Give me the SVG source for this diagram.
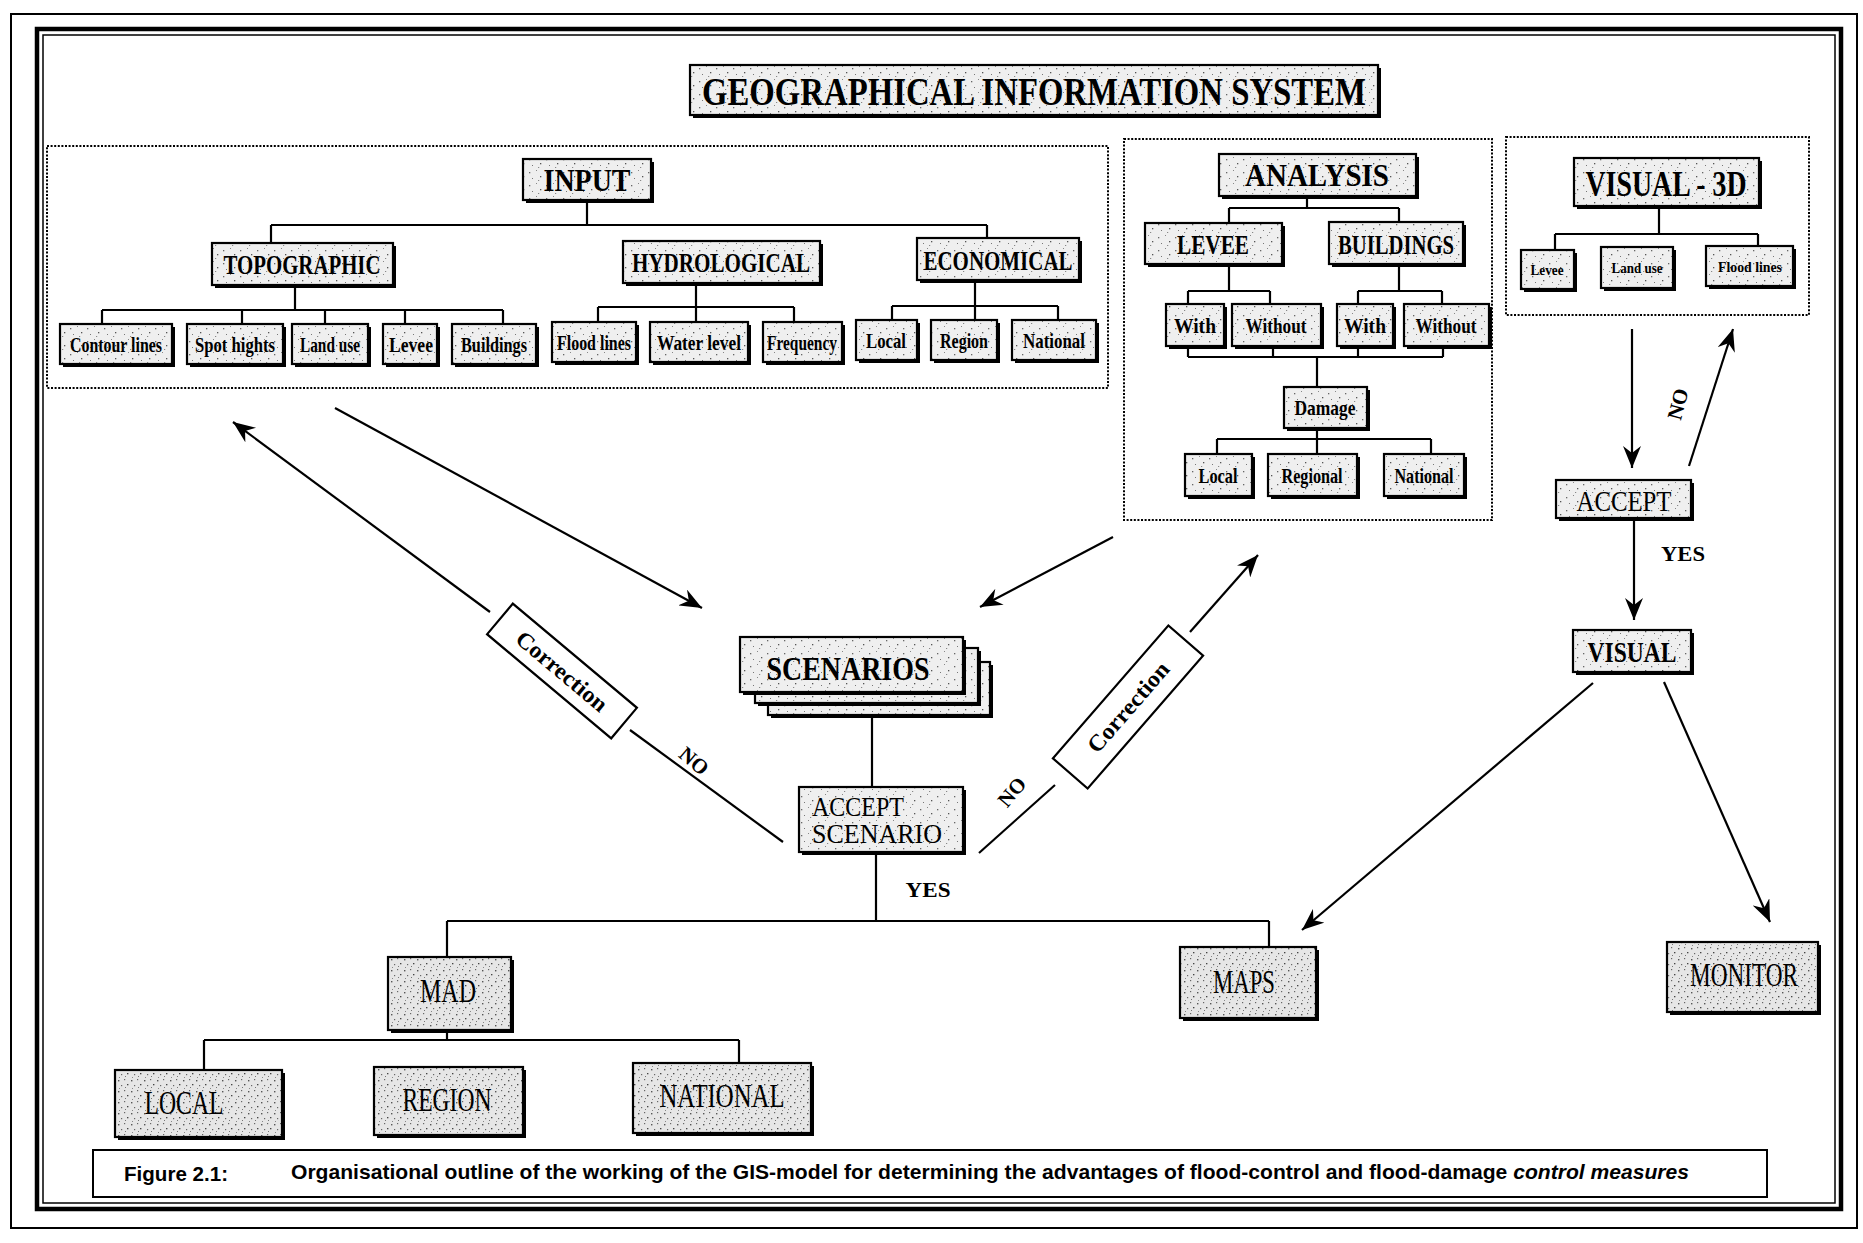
<svg xmlns="http://www.w3.org/2000/svg" width="1863" height="1243" viewBox="0 0 1863 1243">
<defs>
<pattern id="speck" width="17" height="13" patternUnits="userSpaceOnUse">
<rect width="17" height="13" fill="#efefef"/>
<rect x="2" y="3" width="1.3" height="1.3" fill="#666"/>
<rect x="9" y="1" width="1" height="1" fill="#888"/>
<rect x="13" y="7" width="1.3" height="1.3" fill="#555"/>
<rect x="5" y="9" width="1" height="1" fill="#777"/>
<rect x="11" y="11" width="1.2" height="1" fill="#888"/>
</pattern>
<pattern id="speck2" width="13" height="11" patternUnits="userSpaceOnUse">
<rect width="13" height="11" fill="#e6e6e6"/>
<rect x="1" y="2" width="1.4" height="1.4" fill="#555"/>
<rect x="7" y="1" width="1.2" height="1.2" fill="#666"/>
<rect x="10" y="6" width="1.4" height="1.3" fill="#444"/>
<rect x="4" y="7" width="1.2" height="1.2" fill="#666"/>
<rect x="8" y="9" width="1" height="1" fill="#777"/>
<rect x="2" y="10" width="1" height="1" fill="#888"/>
</pattern>
<marker id="ah" markerUnits="userSpaceOnUse" markerWidth="24" markerHeight="18" refX="22" refY="9" orient="auto">
<path d="M0,0 L22,9 L0,18 L7,9 z" fill="#000"/>
</marker>
<style>
.sh{fill:#000}
.bx{fill:url(#speck);stroke:#000;stroke-width:2.2}
.bx2{fill:url(#speck2);stroke:#000;stroke-width:2.2}
.t{font-family:"Liberation Serif","Times New Roman",serif;font-weight:bold;text-anchor:middle;fill:#000}
.r{font-weight:normal}
.ln{stroke:#000;stroke-width:2.2;fill:none}
.arr{stroke:#000;stroke-width:2.2;fill:none;marker-end:url(#ah)}
.dot{fill:none;stroke:#000;stroke-width:2;stroke-dasharray:2 1.6}
.cap{font-family:"Liberation Sans",Arial,sans-serif;font-weight:bold;fill:#000}
</style>
</defs>
<rect width="1863" height="1243" fill="#fff"/>
<g id="frame">
<rect x="11" y="14" width="1846" height="1214" fill="none" stroke="#000" stroke-width="2"/>
<rect x="37" y="29" width="1804" height="1180" fill="none" stroke="#000" stroke-width="4.5"/>
<rect x="43" y="35" width="1792" height="1168" fill="none" stroke="#000" stroke-width="1.5"/>
</g>
<g id="groups">
<rect class="dot" x="47" y="146" width="1061" height="242"/>
<rect class="dot" x="1124" y="139" width="368" height="381"/>
<rect class="dot" x="1506" y="137" width="303" height="178"/>
</g>
<g id="connectors">
<path class="ln" d="M587,200 V225 M271,225 H987 M271,225 V243 M987,225 V238"/>
<path class="ln" d="M295,285 V310 M102,310 H503 M102,310 V324 M242,310 V324 M325,310 V324 M405,310 V324 M503,310 V324"/>
<path class="ln" d="M696,283 V307 M598,307 H794 M598,307 V322 M696,307 V322 M794,307 V322"/>
<path class="ln" d="M975,280 V306 M892,306 H1058 M892,306 V320 M975,306 V320 M1058,306 V320"/>
<path class="ln" d="M1307,196 V208 M1229,208 H1399 M1229,208 V223 M1399,208 V222"/>
<path class="ln" d="M1229,264 V291 M1188,291 H1270 M1188,291 V304 M1270,291 V304"/>
<path class="ln" d="M1399,264 V291 M1358,291 H1442 M1358,291 V304 M1442,291 V304"/>
<path class="ln" d="M1188,346 V357 M1273,346 V357 M1358,346 V357 M1443,346 V357 M1188,357 H1443 M1317,357 V387"/>
<path class="ln" d="M1317,428 V439 M1217,439 H1431 M1217,439 V454 M1317,439 V454 M1431,439 V454"/>
<path class="ln" d="M1659,206 V234 M1555,234 H1758 M1555,234 V250 M1758,234 V246"/>
<path class="ln" d="M872,715 V787"/>
<path class="ln" d="M876,852 V921 M447,921 H1269 M447,921 V957 M1269,921 V947"/>
<path class="ln" d="M447,1030 V1040 M204,1040 H739 M204,1040 V1070 M739,1040 V1063"/>
<line class="arr" x1="335" y1="408" x2="702" y2="608"/>
<line class="arr" x1="1113" y1="537" x2="980" y2="607"/>
<line class="ln" x1="783" y1="842" x2="630" y2="730"/>
<line class="arr" x1="490" y1="612" x2="233" y2="422"/>
<line class="ln" x1="979" y1="853" x2="1055" y2="785"/>
<line class="arr" x1="1190" y1="632" x2="1258" y2="555"/>
<line class="arr" x1="1632" y1="329" x2="1632" y2="468"/>
<line class="arr" x1="1689" y1="466" x2="1733" y2="329"/>
<line class="arr" x1="1634" y1="518" x2="1634" y2="620"/>
<line class="arr" x1="1593" y1="683" x2="1302" y2="930"/>
<line class="arr" x1="1664" y1="682" x2="1770" y2="922"/>
<g transform="translate(562,671) rotate(40)">
<rect x="-81" y="-20" width="162" height="40" fill="#fff" stroke="#000" stroke-width="2.2"/>
<text class="t" x="0" y="8" font-size="23" textLength="112" lengthAdjust="spacingAndGlyphs">Correction</text>
</g>
<g transform="translate(1128,707) rotate(-49)">
<rect x="-88" y="-23" width="176" height="46" fill="#fff" stroke="#000" stroke-width="2.2"/>
<text class="t" x="0" y="8" font-size="23" textLength="112" lengthAdjust="spacingAndGlyphs">Correction</text>
</g>
<text class="t" font-size="21" transform="translate(694,761) rotate(40)" x="0" y="7">NO</text>
<text class="t" font-size="21" transform="translate(1012,792) rotate(-50)" x="0" y="7">NO</text>
<text class="t" font-size="21" transform="translate(1678,404) rotate(-75)" x="0" y="7">NO</text>
<text class="t" font-size="21" x="1683" y="561" textLength="44" lengthAdjust="spacingAndGlyphs">YES</text>
<text class="t" font-size="21" x="928" y="897" textLength="45" lengthAdjust="spacingAndGlyphs">YES</text>
</g>
<g id="title">
<rect class="sh" x="693" y="68" width="688" height="50"/>
<rect class="bx" x="690" y="65" width="688" height="50"/>
<text class="t" x="1034" y="105" font-size="39" textLength="664" lengthAdjust="spacingAndGlyphs">GEOGRAPHICAL INFORMATION SYSTEM</text>
</g>
<g id="input">
<rect class="sh" x="526" y="162" width="128" height="41"/>
<rect class="bx" x="523" y="159" width="128" height="41"/>
<text class="t" x="587" y="191" font-size="32" textLength="87" lengthAdjust="spacingAndGlyphs">INPUT</text>
</g>
<g id="topographic">
<rect class="sh" x="215" y="246" width="181" height="42"/>
<rect class="bx" x="212" y="243" width="181" height="42"/>
<text class="t" x="302" y="274" font-size="28" textLength="157" lengthAdjust="spacingAndGlyphs">TOPOGRAPHIC</text>
</g>
<g id="hydrological">
<rect class="sh" x="626" y="244" width="197" height="42"/>
<rect class="bx" x="623" y="241" width="197" height="42"/>
<text class="t" x="721" y="272" font-size="28" textLength="178" lengthAdjust="spacingAndGlyphs">HYDROLOGICAL</text>
</g>
<g id="economical">
<rect class="sh" x="920" y="241" width="162" height="42"/>
<rect class="bx" x="917" y="238" width="162" height="42"/>
<text class="t" x="998" y="270" font-size="28" textLength="149" lengthAdjust="spacingAndGlyphs">ECONOMICAL</text>
</g>
<g id="contour-lines"><rect class="sh" x="63" y="327" width="112" height="40"/><rect class="bx" x="60" y="324" width="112" height="40"/><text class="t" x="116" y="352" font-size="22" textLength="92" lengthAdjust="spacingAndGlyphs">Contour lines</text></g>
<g id="spot-hights"><rect class="sh" x="190" y="327" width="96" height="40"/><rect class="bx" x="187" y="324" width="96" height="40"/><text class="t" x="235" y="352" font-size="22" textLength="80" lengthAdjust="spacingAndGlyphs">Spot hights</text></g>
<g id="land-use"><rect class="sh" x="295" y="327" width="76" height="40"/><rect class="bx" x="292" y="324" width="76" height="40"/><text class="t" x="330" y="352" font-size="22" textLength="60" lengthAdjust="spacingAndGlyphs">Land use</text></g>
<g id="levee-in"><rect class="sh" x="386" y="327" width="54" height="40"/><rect class="bx" x="383" y="324" width="54" height="40"/><text class="t" x="411" y="352" font-size="22" textLength="44" lengthAdjust="spacingAndGlyphs">Levee</text></g>
<g id="buildings-in"><rect class="sh" x="455" y="327" width="84" height="40"/><rect class="bx" x="452" y="324" width="84" height="40"/><text class="t" x="494" y="352" font-size="22" textLength="66" lengthAdjust="spacingAndGlyphs">Buildings</text></g>
<g id="flood-lines"><rect class="sh" x="555" y="325" width="84" height="40"/><rect class="bx" x="552" y="322" width="84" height="40"/><text class="t" x="594" y="350" font-size="22" textLength="74" lengthAdjust="spacingAndGlyphs">Flood lines</text></g>
<g id="water-level"><rect class="sh" x="653" y="325" width="98" height="40"/><rect class="bx" x="650" y="322" width="98" height="40"/><text class="t" x="699" y="350" font-size="22" textLength="84" lengthAdjust="spacingAndGlyphs">Water level</text></g>
<g id="frequency"><rect class="sh" x="766" y="325" width="79" height="40"/><rect class="bx" x="763" y="322" width="79" height="40"/><text class="t" x="802" y="350" font-size="22" textLength="70" lengthAdjust="spacingAndGlyphs">Frequency</text></g>
<g id="local-in"><rect class="sh" x="859" y="323" width="61" height="40"/><rect class="bx" x="856" y="320" width="61" height="40"/><text class="t" x="886" y="348" font-size="22" textLength="40" lengthAdjust="spacingAndGlyphs">Local</text></g>
<g id="region-in"><rect class="sh" x="934" y="323" width="66" height="40"/><rect class="bx" x="931" y="320" width="66" height="40"/><text class="t" x="964" y="348" font-size="22" textLength="48" lengthAdjust="spacingAndGlyphs">Region</text></g>
<g id="national-in"><rect class="sh" x="1015" y="323" width="84" height="40"/><rect class="bx" x="1012" y="320" width="84" height="40"/><text class="t" x="1054" y="348" font-size="22" textLength="62" lengthAdjust="spacingAndGlyphs">National</text></g>
<g id="analysis">
<rect class="sh" x="1222" y="157" width="197" height="42"/>
<rect class="bx" x="1219" y="154" width="197" height="42"/>
<text class="t" x="1317" y="186" font-size="32" textLength="144" lengthAdjust="spacingAndGlyphs">ANALYSIS</text>
</g>
<g id="levee"><rect class="sh" x="1148" y="226" width="137" height="41"/><rect class="bx" x="1145" y="223" width="137" height="41"/><text class="t" x="1213" y="254" font-size="27" textLength="72" lengthAdjust="spacingAndGlyphs">LEVEE</text></g>
<g id="buildings"><rect class="sh" x="1332" y="225" width="134" height="42"/><rect class="bx" x="1329" y="222" width="134" height="42"/><text class="t" x="1396" y="254" font-size="27" textLength="116" lengthAdjust="spacingAndGlyphs">BUILDINGS</text></g>
<g id="with-levee"><rect class="sh" x="1169" y="307" width="58" height="42"/><rect class="bx" x="1166" y="304" width="58" height="42"/><text class="t" x="1195" y="333" font-size="22" textLength="42" lengthAdjust="spacingAndGlyphs">With</text></g>
<g id="without-levee"><rect class="sh" x="1235" y="307" width="89" height="42"/><rect class="bx" x="1232" y="304" width="89" height="42"/><text class="t" x="1276" y="333" font-size="22" textLength="61" lengthAdjust="spacingAndGlyphs">Without</text></g>
<g id="with-buildings"><rect class="sh" x="1340" y="307" width="56" height="42"/><rect class="bx" x="1337" y="304" width="56" height="42"/><text class="t" x="1365" y="333" font-size="22" textLength="42" lengthAdjust="spacingAndGlyphs">With</text></g>
<g id="without-buildings"><rect class="sh" x="1407" y="307" width="85" height="42"/><rect class="bx" x="1404" y="304" width="85" height="42"/><text class="t" x="1446" y="333" font-size="22" textLength="61" lengthAdjust="spacingAndGlyphs">Without</text></g>
<g id="damage"><rect class="sh" x="1287" y="390" width="83" height="41"/><rect class="bx" x="1284" y="387" width="83" height="41"/><text class="t" x="1325" y="415" font-size="21" textLength="61" lengthAdjust="spacingAndGlyphs">Damage</text></g>
<g id="local-an"><rect class="sh" x="1188" y="457" width="67" height="42"/><rect class="bx" x="1185" y="454" width="67" height="42"/><text class="t" x="1218" y="483" font-size="21" textLength="39" lengthAdjust="spacingAndGlyphs">Local</text></g>
<g id="regional-an"><rect class="sh" x="1271" y="457" width="89" height="42"/><rect class="bx" x="1268" y="454" width="89" height="42"/><text class="t" x="1312" y="483" font-size="21" textLength="61" lengthAdjust="spacingAndGlyphs">Regional</text></g>
<g id="national-an"><rect class="sh" x="1387" y="457" width="80" height="42"/><rect class="bx" x="1384" y="454" width="80" height="42"/><text class="t" x="1424" y="483" font-size="21" textLength="59" lengthAdjust="spacingAndGlyphs">National</text></g>
<g id="visual-3d">
<rect class="sh" x="1577" y="161" width="185" height="48"/>
<rect class="bx" x="1574" y="158" width="185" height="48"/>
<text class="t" x="1666" y="196" font-size="35" textLength="161" lengthAdjust="spacingAndGlyphs">VISUAL - 3D</text>
</g>
<g id="levee-3d"><rect class="sh" x="1524" y="253" width="53" height="39"/><rect class="bx" x="1521" y="250" width="53" height="39"/><text class="t" x="1547" y="275" font-size="14" textLength="33" lengthAdjust="spacingAndGlyphs">Levee</text></g>
<g id="land-use-3d"><rect class="sh" x="1604" y="250" width="72" height="41"/><rect class="bx" x="1601" y="247" width="72" height="41"/><text class="t" x="1637" y="273" font-size="14" textLength="51" lengthAdjust="spacingAndGlyphs">Land use</text></g>
<g id="flood-lines-3d"><rect class="sh" x="1709" y="249" width="87" height="40"/><rect class="bx" x="1706" y="246" width="87" height="40"/><text class="t" x="1750" y="272" font-size="14" textLength="64" lengthAdjust="spacingAndGlyphs">Flood lines</text></g>
<g id="accept"><rect class="sh" x="1559" y="483" width="135" height="38"/><rect class="bx" x="1556" y="480" width="135" height="38"/><text class="t r" x="1624" y="511" font-size="30" textLength="95" lengthAdjust="spacingAndGlyphs">ACCEPT</text></g>
<g id="visual"><rect class="sh" x="1576" y="633" width="118" height="42"/><rect class="bx" x="1573" y="630" width="118" height="42"/><text class="t" x="1632" y="662" font-size="30" textLength="89" lengthAdjust="spacingAndGlyphs">VISUAL</text></g>
<g id="scenarios">
<rect class="sh" x="771" y="665" width="222" height="53"/><rect class="bx" x="768" y="662" width="222" height="53"/>
<rect class="sh" x="758" y="651" width="223" height="55"/><rect class="bx" x="755" y="648" width="223" height="55"/>
<rect class="sh" x="743" y="640" width="223" height="55"/><rect class="bx" x="740" y="637" width="223" height="55"/>
<text class="t" x="848" y="680" font-size="34" textLength="163" lengthAdjust="spacingAndGlyphs">SCENARIOS</text>
</g>
<g id="accept-scenario">
<rect class="sh" x="802" y="790" width="164" height="65"/><rect class="bx" x="799" y="787" width="164" height="65"/>
<text class="t r" x="812" y="816" font-size="27" style="text-anchor:start" textLength="92" lengthAdjust="spacingAndGlyphs">ACCEPT</text>
<text class="t r" x="812" y="843" font-size="27" style="text-anchor:start" textLength="130" lengthAdjust="spacingAndGlyphs">SCENARIO</text>
</g>
<g id="mad"><rect class="sh" x="391" y="960" width="123" height="73"/><rect class="bx2" x="388" y="957" width="123" height="73"/><text class="t r" x="448" y="1002" font-size="33" textLength="56" lengthAdjust="spacingAndGlyphs">MAD</text></g>
<g id="maps"><rect class="sh" x="1183" y="950" width="136" height="71"/><rect class="bx2" x="1180" y="947" width="136" height="71"/><text class="t r" x="1244" y="993" font-size="33" textLength="62" lengthAdjust="spacingAndGlyphs">MAPS</text></g>
<g id="monitor"><rect class="sh" x="1670" y="945" width="151" height="70"/><rect class="bx2" x="1667" y="942" width="151" height="70"/><text class="t r" x="1744" y="986" font-size="33" textLength="108" lengthAdjust="spacingAndGlyphs">MONITOR</text></g>
<g id="local"><rect class="sh" x="118" y="1073" width="167" height="67"/><rect class="bx2" x="115" y="1070" width="167" height="67"/><text class="t r" x="184" y="1114" font-size="34" textLength="79" lengthAdjust="spacingAndGlyphs">LOCAL</text></g>
<g id="region"><rect class="sh" x="377" y="1070" width="149" height="68"/><rect class="bx2" x="374" y="1067" width="149" height="68"/><text class="t r" x="447" y="1111" font-size="34" textLength="89" lengthAdjust="spacingAndGlyphs">REGION</text></g>
<g id="national"><rect class="sh" x="636" y="1066" width="178" height="70"/><rect class="bx2" x="633" y="1063" width="178" height="70"/><text class="t r" x="722" y="1107" font-size="34" textLength="125" lengthAdjust="spacingAndGlyphs">NATIONAL</text></g>
<g id="caption">
<rect x="93" y="1150" width="1674" height="47" fill="#fff" stroke="#000" stroke-width="2"/>
<text class="cap" x="124" y="1181" font-size="21" textLength="104" lengthAdjust="spacingAndGlyphs">Figure 2.1:</text>
<text class="cap" x="291" y="1179" font-size="21" textLength="1398" lengthAdjust="spacingAndGlyphs">Organisational outline of the working of the GIS-model for determining the advantages of flood-control and flood-damage <tspan font-style="italic">control measures</tspan></text>
</g>
</svg>
